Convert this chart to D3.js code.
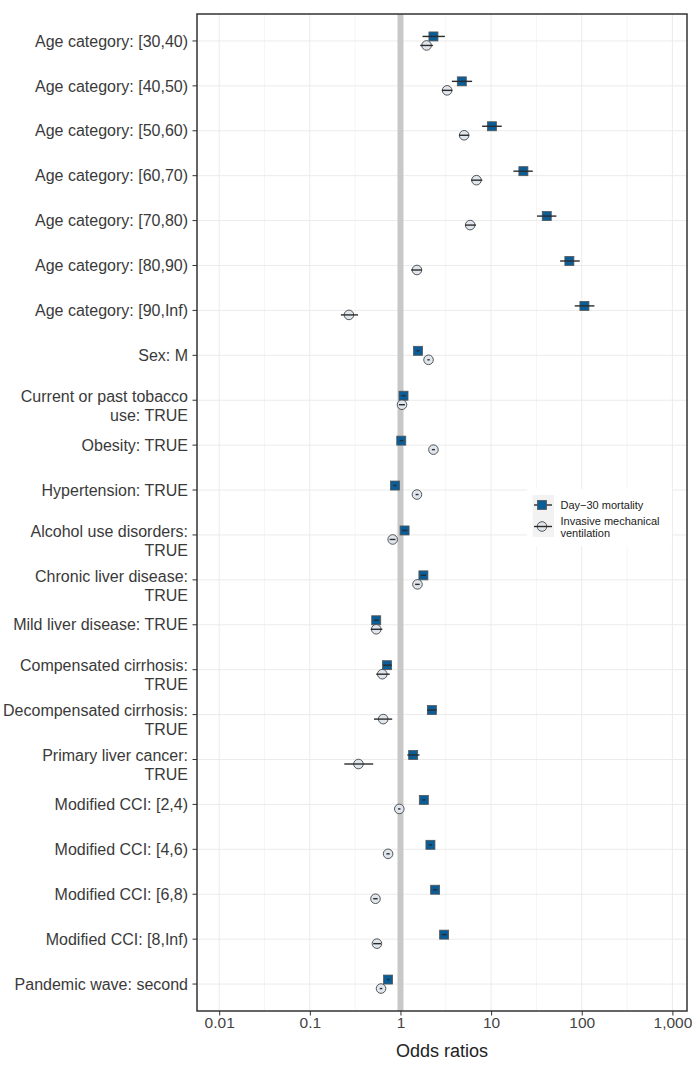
<!DOCTYPE html>
<html>
<head>
<meta charset="utf-8">
<script src="https://cdn.jsdelivr.net/npm/d3@7"></script>
<style>
  body { margin: 0; background: #fff; }
  text { font-family: "Liberation Sans", Arial, sans-serif; }
</style>
</head>
<body>
<svg width="692" height="1067"></svg>
<script>
// forest plot: odds ratios, two outcomes

var labels = [
  "Age category: [30,40)", "Age category: [40,50)", "Age category: [50,60)",
  "Age category: [60,70)", "Age category: [70,80)", "Age category: [80,90)",
  "Age category: [90,Inf)", "Sex: M", "Current or past tobacco\nuse: TRUE",
  "Obesity: TRUE", "Hypertension: TRUE", "Alcohol use disorders:\nTRUE",
  "Chronic liver disease:\nTRUE", "Mild liver disease: TRUE",
  "Compensated cirrhosis:\nTRUE", "Decompensated cirrhosis:\nTRUE",
  "Primary liver cancer:\nTRUE", "Modified CCI: [2,4)", "Modified CCI: [4,6)",
  "Modified CCI: [6,8)", "Modified CCI: [8,Inf)", "Pandemic wave: second"
];

// Day-30 mortality
var mortOR = [2.31, 4.75, 10.2, 22.7, 41.1, 73, 107, 1.56, 1.08, 1.02, 0.87, 1.11, 1.79, 0.54, 0.71, 2.22, 1.38, 1.81, 2.14, 2.41, 3.03, 0.73];
var mortLo = [1.75, 3.69, 7.95, 17.6, 32.1, 57.7, 83.7, 1.51, 1.03, 0.98, 0.84, 1.04, 1.68, 0.51, 0.64, 1.97, 1.19, 1.75, 2.06, 2.30, 2.85, 0.71];
var mortHi = [3.09, 6.17, 13.1, 28.8, 52.5, 95, 138, 1.62, 1.14, 1.07, 0.90, 1.19, 1.91, 0.58, 0.80, 2.50, 1.62, 1.88, 2.23, 2.53, 3.23, 0.76];

// Invasive mechanical ventilation
var ventOR = [1.94, 3.27, 5.04, 6.89, 5.87, 1.52, 0.27, 2.04, 1.04, 2.31, 1.52, 0.82, 1.54, 0.54, 0.63, 0.645, 0.344, 0.97, 0.73, 0.53, 0.55, 0.61];
var ventLo = [1.65, 2.86, 4.43, 6.0, 5.16, 1.31, 0.22, 1.98, 0.96, 2.22, 1.47, 0.76, 1.45, 0.47, 0.54, 0.51, 0.24, 0.94, 0.70, 0.50, 0.50, 0.59];
var ventHi = [2.28, 3.74, 5.72, 8.0, 6.8, 1.72, 0.34, 2.10, 1.12, 2.40, 1.58, 0.88, 1.63, 0.63, 0.76, 0.81, 0.50, 1.00, 0.76, 0.56, 0.61, 0.63];

var xTicks = [0.01, 0.1, 1, 10, 100, 1000];
var seriesNames = ["Day\u221230 mortality", "Invasive mechanical\nventilation"];

var svg = d3.select("svg");
var pLeft = 197, pRight = 687, pTop = 14, pBottom = 1011;

var xScale = d3.scaleLog().domain([0.00569, 1449]).range([pLeft, pRight]);
var yScale = d3.scalePoint().domain(labels).range([pTop, pBottom]).padding(0.6);

// minor breaks halfway between decades (log space)
var minor = [0.001, 0.01, 0.1, 1, 10, 100, 1000].map(function(d) { return d * Math.sqrt(10); });

var grid = svg.append("g");
grid.selectAll("line.minor")
  .data(minor.filter(function(d) { return xScale(d) > pLeft && xScale(d) < pRight; }))
  .enter().append("line")
  .attr("x1", function(d) { return xScale(d); })
  .attr("x2", function(d) { return xScale(d); })
  .attr("y1", pTop).attr("y2", pBottom)
  .attr("stroke", "#f2f2f2").attr("stroke-width", 0.8);
grid.selectAll("line.vmajor")
  .data(xTicks)
  .enter().append("line")
  .attr("x1", function(d) { return xScale(d); })
  .attr("x2", function(d) { return xScale(d); })
  .attr("y1", pTop).attr("y2", pBottom)
  .attr("stroke", "#ebebeb").attr("stroke-width", 1);
grid.selectAll("line.hmajor")
  .data(labels)
  .enter().append("line")
  .attr("x1", pLeft).attr("x2", pRight)
  .attr("y1", function(d) { return yScale(d); })
  .attr("y2", function(d) { return yScale(d); })
  .attr("stroke", "#ebebeb").attr("stroke-width", 1);

// reference line at OR = 1
svg.append("line")
  .attr("x1", xScale(1)).attr("x2", xScale(1))
  .attr("y1", pTop).attr("y2", pBottom)
  .attr("stroke", "#c8c8c8").attr("stroke-width", 6);

var rows = labels.map(function(d, i) {
  return {label: d, m: mortOR[i], mlo: mortLo[i], mhi: mortHi[i],
          v: ventOR[i], vlo: ventLo[i], vhi: ventHi[i]};
});
var dodge = 4.5;

// squares: mortality
svg.selectAll("rect.mort")
  .data(rows).enter().append("rect")
  .attr("class", "mort")
  .attr("x", function(d) { return xScale(d.m) - 4.5; })
  .attr("y", function(d) { return yScale(d.label) - dodge - 4.5; })
  .attr("width", 9).attr("height", 9)
  .attr("fill", "#0b5d98").attr("stroke", "#555").attr("stroke-width", 0.8);

svg.selectAll("line.mort")
  .data(rows).enter().append("line")
  .attr("x1", function(d) { return xScale(d.mlo); })
  .attr("x2", function(d) { return xScale(d.mhi); })
  .attr("y1", function(d) { return yScale(d.label) - dodge; })
  .attr("y2", function(d) { return yScale(d.label) - dodge; })
  .attr("stroke", "#2b2b2b").attr("stroke-width", 1.4);

// circles: ventilation
svg.selectAll("circle.vent")
  .data(rows).enter().append("circle")
  .attr("class", "vent")
  .attr("cx", function(d) { return xScale(d.v); })
  .attr("cy", function(d) { return yScale(d.label) + dodge; })
  .attr("r", 4.8)
  .attr("fill", "#dfe6ee").attr("stroke", "#444").attr("stroke-width", 0.9);

svg.selectAll("line.vent")
  .data(rows).enter().append("line")
  .attr("x1", function(d) { return xScale(d.vlo); })
  .attr("x2", function(d) { return xScale(d.vhi); })
  .attr("y1", function(d) { return yScale(d.label) + dodge; })
  .attr("y2", function(d) { return yScale(d.label) + dodge; })
  .attr("stroke", "#2b2b2b").attr("stroke-width", 1.4);

// panel border
svg.append("rect")
  .attr("x", pLeft).attr("y", pTop)
  .attr("width", pRight - pLeft).attr("height", pBottom - pTop)
  .attr("fill", "none").attr("stroke", "#333").attr("stroke-width", 1.5);

// y axis labels and ticks
var yAx = svg.append("g");
labels.forEach(function(lab) {
  var y = yScale(lab);
  yAx.append("line").attr("x1", pLeft - 4.5).attr("x2", pLeft)
    .attr("y1", y).attr("y2", y).attr("stroke", "#333").attr("stroke-width", 1);
  var parts = lab.split("\n");
  var t = yAx.append("text").attr("text-anchor", "end")
    .attr("font-size", 16).attr("fill", "#3a3a3a");
  if (parts.length == 1) {
    t.append("tspan").attr("x", 188).attr("y", y + 5.7).text(parts[0]);
  } else {
    t.append("tspan").attr("x", 188).attr("y", y + 1.7).text(parts[0]);
    t.append("tspan").attr("x", 188).attr("y", y + 20.7).text(parts[1]);
  }
});

// x axis
var xAxis = d3.axisBottom(xScale)
  .tickValues(xTicks)
  .tickSize(4.5)
  .tickFormat(d3.format(",~g"));
var xG = svg.append("g").attr("transform", "translate(0," + pBottom + ")").call(xAxis);
xG.select(".domain").remove();
xG.attr("font-size", 15.5).attr("font-family", "Liberation Sans, Arial, sans-serif");
xG.selectAll(".tick line").attr("stroke", "#333");
xG.selectAll(".tick text")
  .attr("fill", "#444")
  .attr("y", 16.8).attr("dy", 0);

svg.append("text")
  .attr("x", (pLeft + pRight) / 2).attr("y", 1057.3)
  .attr("text-anchor", "middle")
  .attr("font-size", 18).attr("fill", "#222")
  .text("Odds ratios");

// legend
var lg = svg.append("g");
lg.append("rect").attr("x", 527).attr("y", 489).attr("width", 145).attr("height", 57)
  .attr("fill", "#fff");
lg.append("rect").attr("x", 532.7).attr("y", 495).attr("width", 21.3).attr("height", 42)
  .attr("fill", "#f2f2f2");
lg.append("line").attr("x1", 534).attr("x2", 552).attr("y1", 505).attr("y2", 505)
  .attr("stroke", "#2b2b2b").attr("stroke-width", 1.4);
lg.append("rect").attr("x", 537.5).attr("y", 500.5).attr("width", 9).attr("height", 9)
  .attr("fill", "#0b5d98").attr("stroke", "#555").attr("stroke-width", 0.8);
lg.append("circle").attr("cx", 542).attr("cy", 526.5).attr("r", 4.8)
  .attr("fill", "#dfe6ee").attr("stroke", "#444").attr("stroke-width", 0.9);
lg.append("line").attr("x1", 534).attr("x2", 552).attr("y1", 526.5).attr("y2", 526.5)
  .attr("stroke", "#2b2b2b").attr("stroke-width", 1.4);
lg.append("text").attr("x", 560.5).attr("y", 508.5).attr("font-size", 11)
  .attr("fill", "#222").text(seriesNames[0]);
var l2 = seriesNames[1].split("\n");
lg.append("text").attr("x", 560.5).attr("y", 525).attr("font-size", 11)
  .attr("fill", "#222").text(l2[0]);
lg.append("text").attr("x", 560.5).attr("y", 537).attr("font-size", 11)
  .attr("fill", "#222").text(l2[1]);
</script>
</body>
</html>
